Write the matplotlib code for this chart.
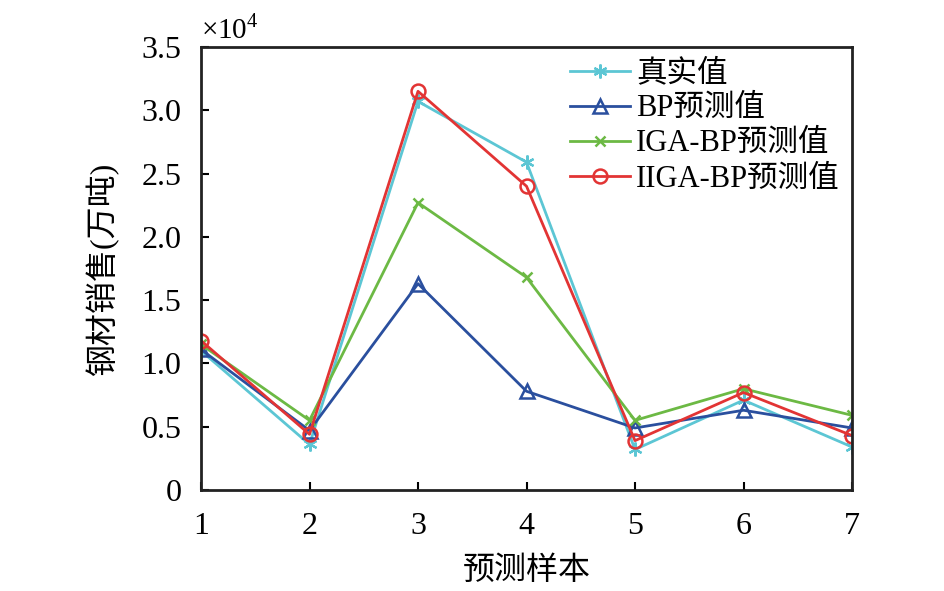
import matplotlib.pyplot as plt

plt.rcParams['font.family'] = ['Liberation Serif', 'Noto Sans CJK SC']
plt.rcParams['mathtext.fontset'] = 'custom'
plt.rcParams['mathtext.rm'] = 'Liberation Serif'

# 预测样本
samples = [1, 2, 3, 4, 5, 6, 7]
# 数值单位: ×10^4 万吨
real_vals = [1.10, 0.36, 3.07, 2.59, 0.32, 0.71, 0.34]
bp_vals = [1.11, 0.47, 1.63, 0.78, 0.49, 0.63, 0.49]
iga_vals = [1.15, 0.55, 2.27, 1.68, 0.55, 0.80, 0.59]
iiga_vals = [1.18, 0.44, 3.15, 2.40, 0.39, 0.77, 0.43]

y_ticks = [0, 0.5, 1.0, 1.5, 2.0, 2.5, 3.0, 3.5]
y_tick_labels = ['0', '0.5', '1.0', '1.5', '2.0', '2.5', '3.0', '3.5']

fig = plt.figure(figsize=(9.45, 5.91), dpi=100)
ax = fig.add_axes([0.2127, 0.1709, 0.6889, 0.7496])

ax.plot(samples, real_vals, color='#5cc6d4', lw=2, marker=(6, 2, 0), ms=10,
        mew=1.6, label='真实值')
ax.plot(samples, bp_vals, color='#2a4f9e', lw=2, marker='^', ms=10,
        mfc='none', mew=1.8, label='BP预测值')
ax.plot(samples, iga_vals, color='#6cb944', lw=2, marker='x', ms=7,
        mew=1.8, label='IGA-BP预测值')
ax.plot(samples, iiga_vals, color='#e23434', lw=2, marker='o', ms=10,
        mfc='none', mew=1.8, label='IIGA-BP预测值')

ax.set_xlim(1, 7)
ax.set_ylim(0, 3.5)
ax.set_xticks(samples)
ax.set_yticks(y_ticks)
ax.set_yticklabels(y_tick_labels)
ax.tick_params(direction='in', length=6, width=1.5, labelsize=23)
ax.tick_params(axis='y', pad=14)
ax.tick_params(axis='x', pad=16)

for s in ax.spines.values():
    s.set_linewidth(2)
    s.set_color('#222222')

ax.set_xlabel('预测样本', fontsize=23, labelpad=11)
ax.set_ylabel('钢材销售(万吨)', fontsize=23, labelpad=16)

ax.text(0.0, 1.005, r'$\times10^4$', transform=ax.transAxes, fontsize=21,
        ha='left', va='bottom')

ax.legend(loc='upper right', frameon=False, fontsize=22, handlelength=1.95,
          handletextpad=0.2, labelspacing=0.2, borderaxespad=0.0,
          bbox_to_anchor=(1.0, 1.0))

fig.savefig('out.png', dpi=100)
